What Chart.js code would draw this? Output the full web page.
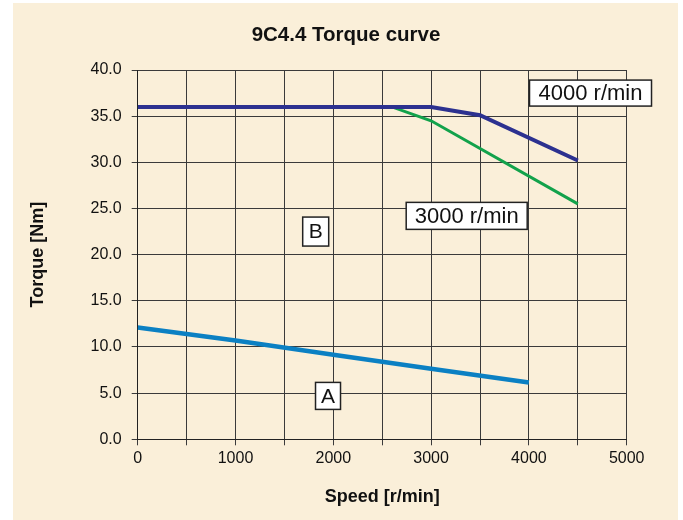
<!DOCTYPE html>
<html>
<head>
<meta charset="utf-8">
<script src="https://cdn.jsdelivr.net/npm/chart.js@4.4.1/dist/chart.umd.min.js"></script>
<style>
  html, body { margin: 0; padding: 0; background: #fff; }
  #wrap { position: absolute; left: 13px; top: 3px; width: 665px; height: 517px; background: #faefd9; }
</style>
</head>
<body>
<div id="wrap"><canvas id="torqueChart"></canvas></div>
<script>
// values
const speed4000 = [0, 3000, 3500, 4500];
const torque4000 = [36, 36, 35.1, 30.2];
const speed3000 = [0, 2600, 3000, 4500];
const torque3000 = [36, 36, 34.5, 25.5];
const speedA = [0, 1000, 2000, 3000, 4000];
const torqueA = [12.1, 10.7, 9.15, 7.65, 6.15];
const boxTexts = ['4000 r/min', '3000 r/min', 'B', 'A'];
const chartTitle = '9C4.4 Torque curve';

const FONT = '"Liberation Sans", Arial, Helvetica, sans-serif';
const INK = '#111';
const GRID = '#3a3a3a';

function toPoints(xs, ys) {
    return xs.map((v, i) => ({ x: v, y: ys[i] }));
}

// title centred on the panel, plus the white labelled boxes
const boxPlugin = {
    id: 'labelBoxes',
    afterDraw(chart) {
        const { ctx, scales } = chart;
        const spots = [
            { x: 4630, y: 37.5, w: 122, h: 26, size: 22 },
            { x: 3364, y: 24.2, w: 121, h: 27, size: 22 },
            { x: 1820, y: 22.5, w: 26, h: 29, size: 21 },
            { x: 1946, y: 4.7, w: 25, h: 27, size: 21 }
        ];
        ctx.save();
        ctx.textAlign = 'center';
        ctx.textBaseline = 'middle';
        ctx.fillStyle = INK;
        ctx.font = 'bold 20.5px ' + FONT;
        ctx.fillText(chartTitle, 333, 32);
        spots.forEach((s, i) => {
            const cx = scales.x.getPixelForValue(s.x);
            const cy = scales.y.getPixelForValue(s.y);
            ctx.fillStyle = '#fff';
            ctx.fillRect(cx - s.w / 2, cy - s.h / 2, s.w, s.h);
            ctx.strokeStyle = '#222';
            ctx.lineWidth = 1.5;
            ctx.strokeRect(cx - s.w / 2, cy - s.h / 2, s.w, s.h);
            ctx.fillStyle = INK;
            ctx.font = s.size + 'px ' + FONT;
            ctx.fillText(boxTexts[i], cx, cy + 1);
        });
        ctx.restore();
    }
};

const ctx = document.getElementById('torqueChart').getContext('2d');
new Chart(ctx, {
    type: 'line',
    data: {
        datasets: [
            {
                label: '4000 r/min',
                data: toPoints(speed4000, torque4000),
                borderColor: '#2c3190',
                borderWidth: 4
            },
            {
                label: '3000 r/min',
                data: toPoints(speed3000, torque3000),
                borderColor: '#12a24b',
                borderWidth: 3
            },
            {
                label: 'A',
                data: toPoints(speedA, torqueA),
                borderColor: '#0b80c3',
                borderWidth: 4.5
            }
        ]
    },
    options: {
        responsive: true,
        maintainAspectRatio: false,
        animation: false,
        elements: { point: { radius: 0 }, line: { tension: 0, fill: false } },
        layout: { padding: { top: 67, left: 0, bottom: 0, right: 51.3 } },
        plugins: {
            legend: { display: false },
            tooltip: { enabled: false },
            title: { display: false }
        },
        scales: {
            x: {
                type: 'linear',
                min: 0,
                max: 5000,
                afterFit: s => { s.height = 80.7; },
                grid: { color: GRID, tickLength: 6 },
                border: { color: '#222' },
                ticks: {
                    stepSize: 500,
                    autoSkip: false,
                    maxRotation: 0,
                    padding: 4,
                    color: INK,
                    font: { family: FONT, size: 16 },
                    callback: v => (v % 1000 === 0 ? String(v) : '')
                },
                title: {
                    display: true,
                    text: 'Speed [r/min]',
                    color: INK,
                    font: { family: FONT, size: 18, weight: 'bold' },
                    padding: { top: 0, bottom: 12 }
                }
            },
            y: {
                min: 0,
                max: 40,
                afterFit: s => { s.width = 124.7; },
                grid: { color: GRID, tickLength: 6 },
                border: { color: '#222' },
                ticks: {
                    stepSize: 5,
                    padding: 10,
                    color: INK,
                    font: { family: FONT, size: 16 },
                    callback: v => v.toFixed(1)
                },
                title: {
                    display: true,
                    text: 'Torque [Nm]',
                    color: INK,
                    font: { family: FONT, size: 18, weight: 'bold' },
                    padding: { top: 14, bottom: 0 }
                }
            }
        }
    },
    plugins: [boxPlugin]
});
</script>
</body>
</html>
